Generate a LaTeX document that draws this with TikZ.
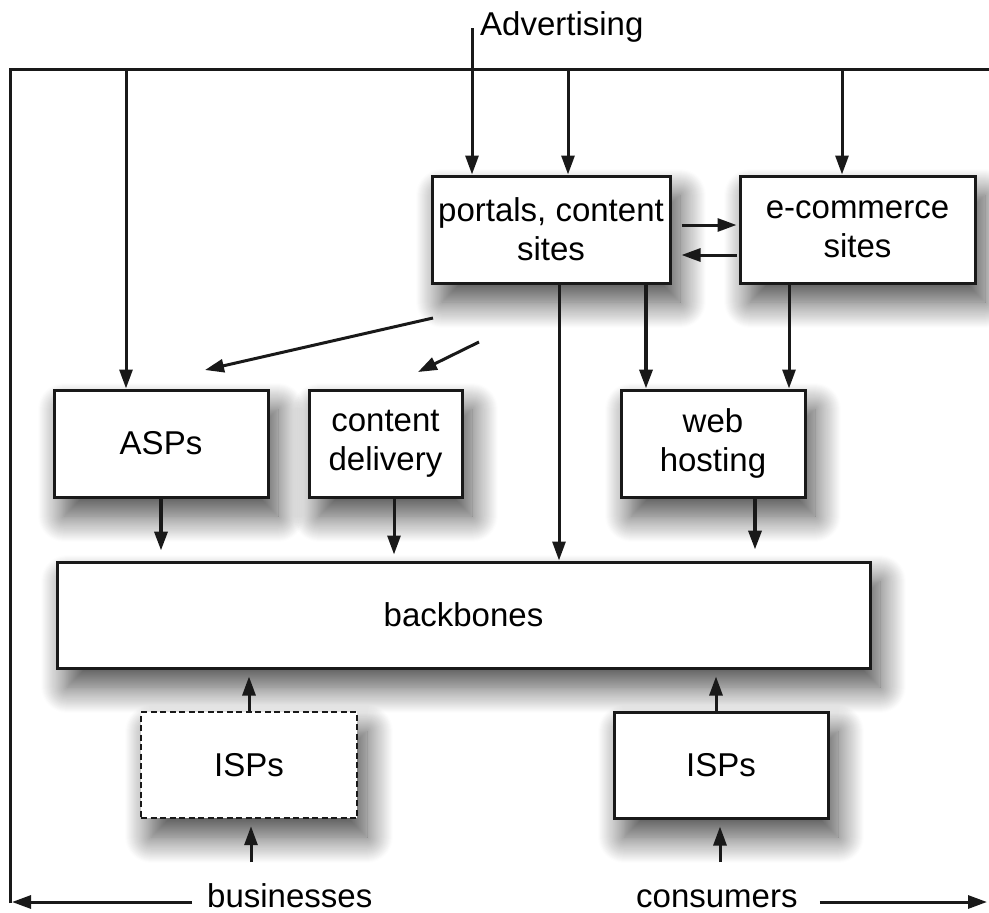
\documentclass[tikz,border=0pt]{standalone}
\usepackage{fontspec}
\setmainfont{Liberation Sans}
\usetikzlibrary{arrows.meta,calc,shadows.blur}
\begin{document}
\begin{tikzpicture}[x=1pt,y=-1pt,
  box/.style={draw=black!90,line width=3pt,fill=white,align=center,
    font=\fontsize{33}{39}\selectfont,
    blur shadow={shadow xshift=10pt,shadow yshift=-19pt,shadow blur radius=26pt,shadow blur steps=26,shadow opacity=72}},
  dbox/.style={box,dash pattern=on 6pt off 3.5pt,line width=2.4pt},
  lbl/.style={font=\fontsize{33}{39}\selectfont,inner sep=0pt},
  arr/.style={line width=3pt,draw=black!90,-{Triangle[length=19pt,width=13pt]}},
  tarr/.style={arr,line width=3.6pt},
  frame/.style={line width=3pt,draw=black!90}]
\useasboundingbox (0,0) rectangle (989,913);
% frame
\coordinate (fl) at (10,903);
\coordinate (tl) at (10,69);
\coordinate (tr) at (989,69);
\draw[frame] (fl) -- (tl) -- (tr);
% boxes
\node[box,minimum width=238pt,minimum height=107pt] (portal) at (551,229.5) {portals, content\\sites};
\node[box,minimum width=235pt,minimum height=107pt] (ecom) at (857.5,229.5) {e-commerce\\sites};
\node[box,minimum width=214pt,minimum height=107pt] (asps) at (161,443.5) {ASPs};
\node[box,minimum width=153pt,minimum height=107pt] (cdel) at (385.5,443.5) {content\\delivery};
\node[box,minimum width=184pt,minimum height=107pt] (web) at (713,443.5) {web\\hosting};
\node[box,minimum width=813pt,minimum height=106pt] (bb) at (463.5,615) {backbones};
\node[dbox,minimum width=216pt,minimum height=106pt] (ispb) at (249,765) {ISPs};
\node[box,minimum width=214pt,minimum height=106pt] (ispc) at (721,765) {ISPs};
% advertising
\node[lbl,anchor=base west] (adv) at (480,35) {Advertising};
\coordinate (advtop) at (472,28);
\draw[arr] (advtop) -- (advtop |- portal.north);
% top arrows from frame
\draw[arr] ([xshift=-35pt]asps.north |- tl) -- ([xshift=-35pt]asps.north);
\draw[arr] ([xshift=17pt]portal.north |- tl) -- ([xshift=17pt]portal.north);
\draw[arr] ([xshift=-15.5pt]ecom.north |- tl) -- ([xshift=-15.5pt]ecom.north);
% between portal and ecom
\draw[arr] ($(portal.east)+(10,-4.5)$) -- ($(ecom.west)+(-2,-4.5)$);
\draw[arr] ($(ecom.west)+(-2,25.5)$) -- ($(portal.east)+(10,25.5)$);
% diagonal arrows
\coordinate (d1s) at (433,318);
\coordinate (d1e) at (205,370);
\coordinate (d2s) at (479,342);
\coordinate (d2e) at (418,372);
\draw[arr] (d1s) -- (d1e);
\draw[arr] (d2s) -- (d2e);
% down arrows
\draw[arr] ([xshift=8pt]portal.south) -- ([xshift=8pt]portal.south |- bb.north);
\draw[tarr] ([xshift=95pt]portal.south) -- ([xshift=95pt]portal.south |- web.north);
\draw[arr] ([xshift=-68.5pt]ecom.south) -- ([xshift=-68.5pt]ecom.south |- web.north);
\draw[tarr,shorten >=10pt] (asps.south) -- (asps.south |- bb.north);
\draw[arr,shorten >=6pt] ([xshift=8.5pt]cdel.south) -- ([xshift=8.5pt]cdel.south |- bb.north);
\draw[tarr,shorten >=11pt] ([xshift=42pt]web.south) -- ([xshift=42pt]web.south |- bb.north);
% ISPs to backbone
\draw[arr,shorten >=7pt] (ispb.north) -- (ispb.north |- bb.south);
\draw[arr,shorten >=7pt] ([xshift=-5pt]ispc.north) -- ([xshift=-5pt]ispc.north |- bb.south);
% into ISPs from below
\coordinate (bi) at (251,862);
\coordinate (ci) at (720,862);
\draw[arr,shorten >=7pt] (bi) -- (bi |- ispb.south);
\draw[arr,shorten >=7pt] (ci) -- (ci |- ispc.south);
% bottom labels
\node[lbl,anchor=base west] (bus) at (207,907) {businesses};
\node[lbl,anchor=base west] (con) at (636,907) {consumers};
\coordinate (bl) at (12,902);
\coordinate (br) at (987,902);
\draw[arr] ([xshift=-15pt]bus.west |- bl) -- (bl);
\draw[arr] ([xshift=22pt]con.east |- br) -- (br);
\end{tikzpicture}
\end{document}
